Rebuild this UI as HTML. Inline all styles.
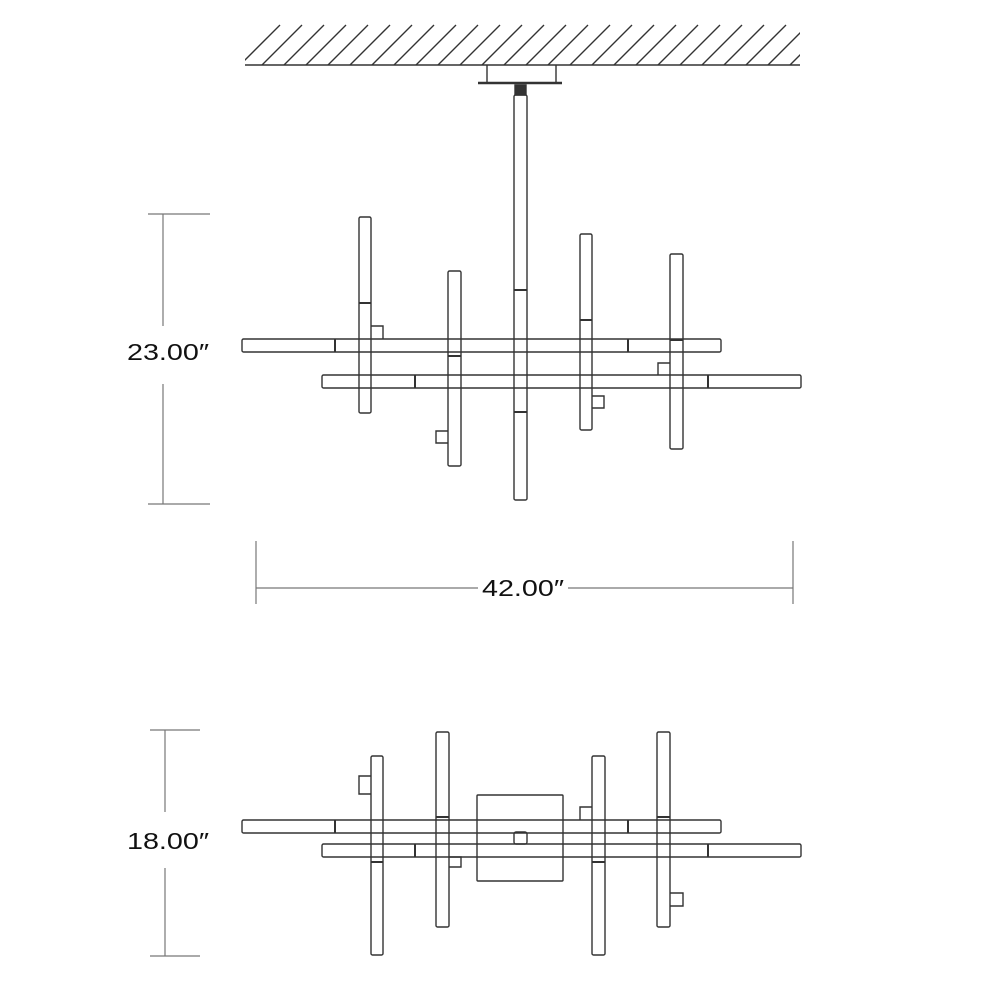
<!DOCTYPE html>
<html><head><meta charset="utf-8"><style>html,body{margin:0;padding:0;background:#fff}svg{display:block}</style></head>
<body>
<svg width="1000" height="1000" viewBox="0 0 1000 1000" xmlns="http://www.w3.org/2000/svg">
<defs><clipPath id="hc"><rect x="245" y="24" width="555" height="41"/></clipPath></defs>
<g stroke="#333" stroke-width="1.4" fill="none">
<g clip-path="url(#hc)">
<path d="M240 65 L280 25 M262 65 L302 25 M284 65 L324 25 M306 65 L346 25 M328 65 L368 25 M350 65 L390 25 M372 65 L412 25 M394 65 L434 25 M416 65 L456 25 M438 65 L478 25 M460 65 L500 25 M482 65 L522 25 M504 65 L544 25 M526 65 L566 25 M548 65 L588 25 M570 65 L610 25 M592 65 L632 25 M614 65 L654 25 M636 65 L676 25 M658 65 L698 25 M680 65 L720 25 M702 65 L742 25 M724 65 L764 25 M746 65 L786 25 M768 65 L808 25 M790 65 L830 25"/>
</g>
<line x1="245" y1="65" x2="800" y2="65" stroke-width="1.6"/>
<path d="M487 65 V82 M556 65 V82"/>
<line x1="478" y1="83" x2="562" y2="83" stroke-width="2.5"/>
<rect x="515" y="85" width="11" height="10" fill="#333"/>
<!-- stem -->
<rect x="514" y="95" width="13" height="405" rx="1.5"/>
<path d="M514 290 H527 M514 412 H527" stroke-width="2"/>
<!-- top horizontal bars -->
<rect x="242" y="339" width="479" height="13" rx="1.5"/>
<path d="M335 339 V352 M628 339 V352" stroke-width="2"/>
<rect x="322" y="375" width="479" height="13" rx="1.5"/>
<path d="M415 375 V388 M708 375 V388" stroke-width="2"/>
<!-- top verticals -->
<rect x="359" y="217" width="12" height="196" rx="1.5"/><path d="M359 303 H371" stroke-width="2"/>
<path d="M371 326 H383 V339"/>
<rect x="448" y="271" width="13" height="195" rx="1.5"/><path d="M448 356 H461" stroke-width="2"/>
<path d="M448 431 H436 V443 H448"/>
<rect x="580" y="234" width="12" height="196" rx="1.5"/><path d="M580 320 H592" stroke-width="2"/>
<path d="M592 396 H604 V408 H592"/>
<rect x="670" y="254" width="13" height="195" rx="1.5"/><path d="M670 340 H683" stroke-width="2"/>
<path d="M670 363 H658 V375"/>
<!-- dimension lines -->
<g stroke="#777" stroke-width="1.2">
<path d="M163 214 V326 M163 384 V504 M148 214 H210 M148 504 H210"/>
<path d="M256 541 V604 M793 541 V604 M256 588 H478 M568 588 H793"/>
<path d="M165 730 V812 M165 868 V956 M150 730 H200 M150 956 H200"/>
</g>
<!-- bottom view -->
<rect x="477" y="795" width="86" height="86" rx="1"/>
<rect x="242" y="820" width="479" height="13" rx="1.5"/>
<path d="M335 820 V833 M628 820 V833" stroke-width="2"/>
<rect x="322" y="844" width="479" height="13" rx="1.5"/>
<path d="M415 844 V857 M708 844 V857" stroke-width="2"/>
<rect x="514" y="832" width="13" height="12" rx="2"/>
<rect x="371" y="756" width="12" height="199" rx="1.5"/><path d="M371 862 H383" stroke-width="2"/>
<path d="M371 776 H359 V794 H371"/>
<rect x="436" y="732" width="13" height="195" rx="1.5"/><path d="M436 817 H449" stroke-width="2"/>
<path d="M449 857 H461 V867 H449"/>
<rect x="592" y="756" width="13" height="199" rx="1.5"/><path d="M592 862 H605" stroke-width="2"/>
<path d="M592 807 H580 V820"/>
<rect x="657" y="732" width="13" height="195" rx="1.5"/><path d="M657 817 H670" stroke-width="2"/>
<path d="M670 893 H683 V906 H670"/>
</g>
<g font-family="Liberation Sans, sans-serif" font-size="23" fill="#111">
<text x="127" y="360" textLength="82" lengthAdjust="spacingAndGlyphs">23.00″</text>
<text x="482" y="596" textLength="82" lengthAdjust="spacingAndGlyphs">42.00″</text>
<text x="127" y="849" textLength="82" lengthAdjust="spacingAndGlyphs">18.00″</text>
</g>
</svg>
</body></html>
